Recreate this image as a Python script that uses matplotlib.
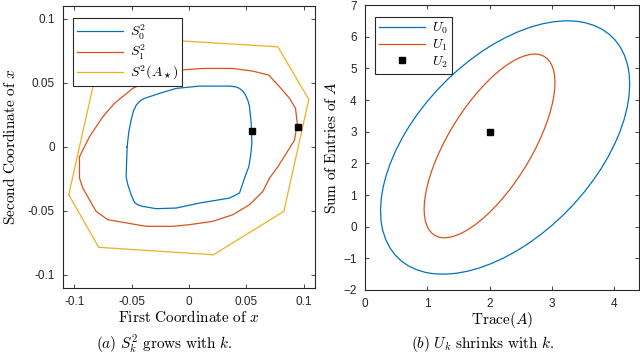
import numpy as np
import matplotlib
matplotlib.use("Agg")
import matplotlib.pyplot as plt
from matplotlib.patches import Ellipse
from matplotlib.lines import Line2D

plt.rcParams['font.family'] = ['Liberation Sans', 'DejaVu Sans']
plt.rcParams['mathtext.fontset'] = 'cm'

BLUE = '#0072BD'
ORANGE = '#D95319'
YELLOW = '#EDB120'
AXC = '#262626'

# left panel: boundaries of S_0^2, S_1^2 and S^2(A_star)
s0_x = [-0.054, -0.0525, -0.0505, -0.0485, -0.046, -0.0425, -0.0389, -0.0258, -0.0112,
        0.0092, 0.0354, 0.041, 0.0441, 0.047, 0.0493, 0.0515, 0.0528, 0.0543, 0.0549,
        0.0538, 0.0522, 0.0485, 0.0441, 0.0354, 0.0092, -0.0112, -0.0287, -0.0404,
        -0.0445, -0.0476, -0.0505, -0.0534, -0.0549, -0.054]
s0_y = [0.0, 0.012, 0.0209, 0.028, 0.0326, 0.036, 0.0378, 0.0417, 0.0456,
        0.0474, 0.0474, 0.0468, 0.0456, 0.0435, 0.0404, 0.036, 0.0313, 0.0183, 0.0027,
        -0.007, -0.0156, -0.0245, -0.0362, -0.0401, -0.044, -0.0479, -0.0484, -0.0466,
        -0.0455, -0.0435, -0.0375, -0.0297, -0.0234, 0.0]

s1_x = [-0.0956, -0.0869, -0.0753, -0.0651, -0.0491, -0.0316, -0.0083, 0.0121, 0.0383,
        0.0557, 0.0697, 0.079, 0.0878, 0.093, 0.0945, 0.0921, 0.0849, 0.0776, 0.0703,
        0.0645, 0.0528, 0.0383, 0.0208, 0.0004, -0.0141, -0.0374, -0.0709, -0.0811,
        -0.0927, -0.0956, -0.0956]
s1_y = [-0.0078, 0.0078, 0.0234, 0.0339, 0.0456, 0.0534, 0.0599, 0.0612, 0.0612,
        0.0591, 0.056, 0.0469, 0.0378, 0.030, 0.0183, 0.0052, -0.0052, -0.0156, -0.0245,
        -0.0349, -0.0453, -0.0531, -0.0583, -0.0609, -0.0622, -0.0622, -0.057, -0.0505,
        -0.0323, -0.0245, -0.0078]

sstar_x = [-0.105, -0.0831, -0.068, -0.04, -0.0083, 0.0776, 0.1046, 0.0828, 0.0214, -0.0788, -0.105]
sstar_y = [-0.0375, 0.05, 0.062, 0.085, 0.0828, 0.0781, 0.037, -0.0505, -0.0844, -0.0786, -0.0375]

pts_x = [0.055, 0.095]
pts_y = [0.012, 0.0155]

# right panel: ellipses U_0, U_1 (center, x radius, y radius, correlation) and point U_2
u_center = [(2.25, 2.5), (2.0, 2.55)]
u_rx = [2.0, 1.05]
u_ry = [4.0, 2.9]
u_rho = [0.5, 0.69]
u2 = (2.0, 3.0)

fig = plt.figure(figsize=(6.4, 3.56), dpi=100)
ax1 = fig.add_axes([63/640, 1-287.5/356, 252/640, 281.5/356])
ax2 = fig.add_axes([365/640, 1-290/356, 274/640, 285/356])


def style(ax):
    ax.tick_params(direction='in', top=True, right=True, length=3, width=0.6,
                   colors=AXC, labelsize=8.5)
    ax.tick_params(axis='x', pad=6)
    ax.tick_params(axis='y', pad=6)
    for sp in ax.spines.values():
        sp.set_color(AXC)
        sp.set_linewidth(0.8)


ax1.plot(s0_x, s0_y, color=BLUE, lw=0.9, label=r'$S_0^2$')
ax1.plot(s1_x, s1_y, color=ORANGE, lw=0.9, label=r'$S_1^2$')
ax1.plot(sstar_x, sstar_y, color=YELLOW, lw=0.9, label=r'$S^2(A_\star)$')
ax1.plot(pts_x, pts_y, 's', color='black', ms=5)
ax1.set_xlim(-0.11, 0.11)
ax1.set_ylim(-0.11, 0.11)
ax1.set_xticks([-0.1, -0.05, 0, 0.05, 0.1])
ax1.set_xticklabels(['-0.1', '-0.05', '0', '0.05', '0.1'])
ax1.set_yticks([-0.1, -0.05, 0, 0.05, 0.1])
ax1.set_yticklabels(['-0.1', '-0.05', '0', '0.05', '0.1'])
ax1.set_xlabel(r'$\mathrm{First\ Coordinate\ of\ }x$', fontsize=11, labelpad=1)
ax1.set_ylabel(r'$\mathrm{Second\ Coordinate\ of\ }x$', fontsize=11, labelpad=7)
style(ax1)
leg1 = ax1.legend(loc='upper left', bbox_to_anchor=(0.0385, 0.956), borderaxespad=0,
                  fontsize=10, handlelength=3.3, labelspacing=0.1, borderpad=0.3,
                  handletextpad=0.5, fancybox=False, framealpha=1, edgecolor=AXC)
leg1.get_frame().set_linewidth(0.8)

for c, rx, ry, rho, col in zip(u_center, u_rx, u_ry, u_rho, [BLUE, ORANGE]):
    cov = np.array([[rx**2, rho*rx*ry], [rho*rx*ry, ry**2]])
    vals, vecs = np.linalg.eigh(cov)
    ang = np.degrees(np.arctan2(vecs[1, 1], vecs[0, 1]))
    e = Ellipse(c, 2*np.sqrt(vals[1]), 2*np.sqrt(vals[0]), angle=ang,
                fill=False, edgecolor=col, lw=0.9)
    ax2.add_patch(e)
ax2.plot([u2[0]], [u2[1]], 's', color='black', ms=5)
ax2.set_xlim(0, 4.4)
ax2.set_ylim(-2, 7)
ax2.set_xticks([0, 1, 2, 3, 4])
ax2.set_yticks(range(-2, 8))
ax2.set_xlabel(r'$\mathrm{Trace}(A)$', fontsize=11, labelpad=0)
ax2.set_ylabel(r'$\mathrm{Sum\ of\ Entries\ of\ }A$', fontsize=11, labelpad=3)
style(ax2)
handles = [Line2D([], [], color=BLUE, lw=0.9),
           Line2D([], [], color=ORANGE, lw=0.9),
           Line2D([], [], marker='s', ls='none', color='black', ms=5)]
leg2 = ax2.legend(handles, [r'$U_0$', r'$U_1$', r'$U_2$'], loc='upper left',
                  bbox_to_anchor=(0.0365, 0.959), borderaxespad=0, fontsize=10,
                  handlelength=3.3, labelspacing=0.1, borderpad=0.3, handletextpad=0.5,
                  fancybox=False, framealpha=1, edgecolor=AXC)
leg2.get_frame().set_linewidth(0.8)

fig.text(164/640, 1-344/356, r'$(a)\ S_k^2\ \mathrm{grows\ with\ }k.$', ha='center', va='center', fontsize=11)
fig.text(483/640, 1-344/356, r'$(b)\ U_k\ \mathrm{shrinks\ with\ }k.$', ha='center', va='center', fontsize=11)

fig.savefig('out.png', dpi=100)
